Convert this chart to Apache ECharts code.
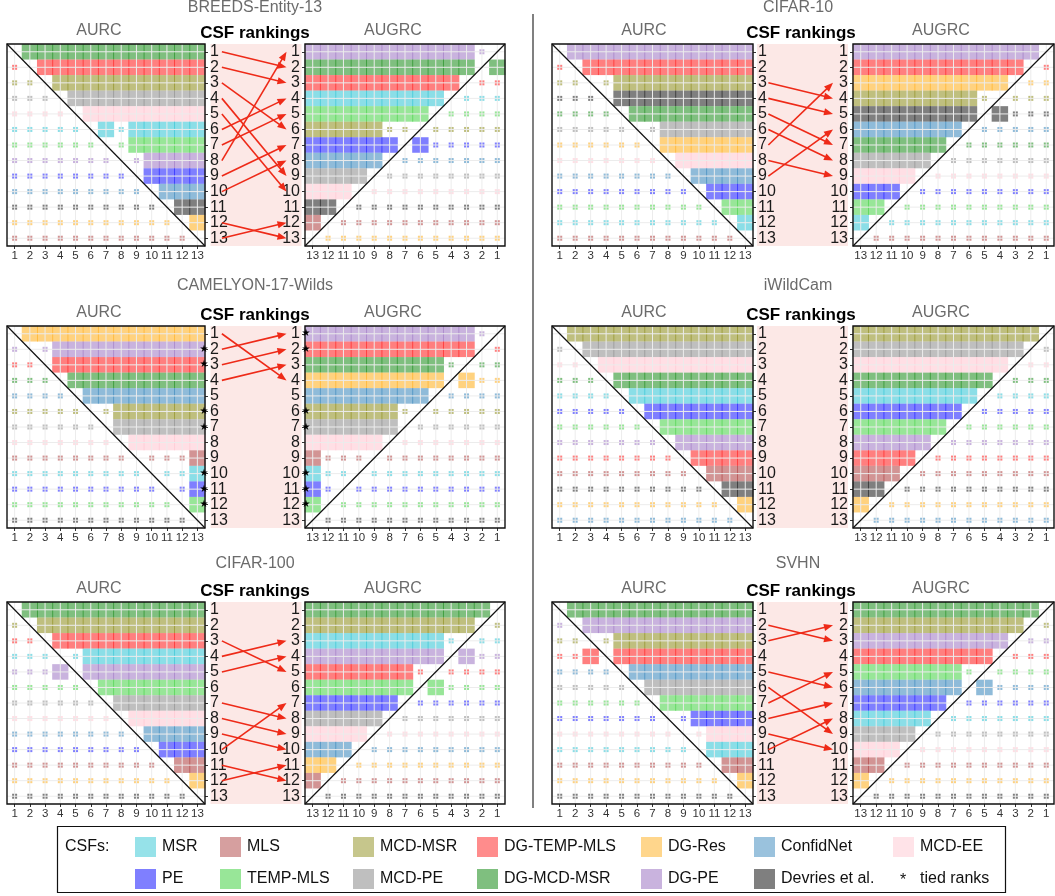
<!DOCTYPE html>
<html><head><meta charset="utf-8">
<script src="https://cdn.jsdelivr.net/npm/echarts/dist/echarts.min.js"></script>
<style>html,body{margin:0;padding:0;background:#fff}#c{width:1055px;height:896px}</style>
</head><body><div id="c"></div>
<script>
// ---------------- DATA ----------------
const rankLabels = ['1','2','3','4','5','6','7','8','9','10','11','12','13'];
const csfNames = ['MSR','MLS','MCD-MSR','DG-TEMP-MLS','DG-Res','ConfidNet','MCD-EE','PE','TEMP-MLS','MCD-PE','DG-MCD-MSR','DG-PE','Devries et al.'];
const csfColors = ['#17becf','#a52a2a','#808000','#ff0000','#ffa500','#1f77b4','#ffc0cb','#0000ff','#32cd32','#808080','#008000','#9467bd','#000000'];
const legendRow1 = ['MSR','MLS','MCD-MSR','DG-TEMP-MLS','DG-Res','ConfidNet','MCD-EE'];
const legendRow2 = ['PE','TEMP-MLS','MCD-PE','DG-MCD-MSR','DG-PE','Devries et al.'];

// '#' = significant (filled tile), '.' = not significant (small marker), '-' = diagonal
const breedsAurc = ['DG-MCD-MSR','DG-TEMP-MLS','MCD-MSR','MCD-PE','MCD-EE','MSR','TEMP-MLS','DG-PE','PE','ConfidNet','Devries et al.','DG-Res','MLS'];
const breedsAugrc = ['DG-PE','DG-MCD-MSR','DG-TEMP-MLS','MSR','TEMP-MLS','MCD-MSR','PE','ConfidNet','MCD-PE','MCD-EE','Devries et al.','MLS','DG-Res'];
const breedsAurcSig = ['-############','.-###########','..-##########','...-#########','....-########','.....-#.#####','......-.#####','.......-.####','........-####','.........-###','..........-##','...........-#','............-'];
const breedsAugrcSig = ['-.###########','#-###########','..-##########','...-#########','....-########','.....-..#####','.....#-######','.......-#####','........-####','.........-###','..........-##','...........-#','............-'];

const camelyonAurc = ['DG-Res','DG-PE','DG-TEMP-MLS','DG-MCD-MSR','ConfidNet','MCD-MSR','MCD-PE','MCD-EE','MLS','MSR','PE','TEMP-MLS','Devries et al.'];
const camelyonAugrc = ['DG-PE','DG-TEMP-MLS','DG-MCD-MSR','DG-Res','ConfidNet','MCD-MSR','MCD-PE','MCD-EE','MLS','MSR','PE','TEMP-MLS','Devries et al.'];
const camelyonAurcSig = ['-############','.-.##########','..-##########','...-#########','....-########','.....-.######','......-######','.......-#####','........-...#','.........-..#','..........-.#','...........-#','............-'];
const camelyonAugrcSig = ['-.###########','.-###########','..-.#########','..#-#########','....-########','.....-.######','......-######','.......-#####','........-...#','.........-..#','..........-.#','...........-#','............-'];
const camelyonTiesAurc = [2,3,6,7,10,11,12];
const camelyonTiesAugrc = [1,2,6,7,10,11,12];

const cifar100Aurc = ['DG-MCD-MSR','MCD-MSR','DG-TEMP-MLS','MSR','DG-PE','TEMP-MLS','MCD-PE','MCD-EE','ConfidNet','PE','MLS','DG-Res','Devries et al.'];
const cifar100Augrc = ['DG-MCD-MSR','MCD-MSR','MSR','DG-PE','DG-TEMP-MLS','TEMP-MLS','PE','MCD-PE','MCD-EE','ConfidNet','DG-Res','MLS','Devries et al.'];
const cifar100AurcSig = ['-############','.-###########','..-##########','...-.########','...#-########','.....-#######','......-######','.......-#####','........-####','.........-###','..........-##','...........-#','............-'];
const cifar100AugrcSig = ['-############','.-###########','..-.#########','..#-#########','....-.#######','....#-#######','......-######','.......-#####','........-####','.........-###','..........-##','...........-#','............-'];

const cifar10Aurc = ['DG-PE','DG-TEMP-MLS','MCD-MSR','Devries et al.','DG-MCD-MSR','MCD-PE','DG-Res','MCD-EE','ConfidNet','PE','TEMP-MLS','MSR','MLS'];
const cifar10Augrc = ['DG-PE','DG-TEMP-MLS','DG-Res','MCD-MSR','Devries et al.','ConfidNet','DG-MCD-MSR','MCD-PE','MCD-EE','PE','TEMP-MLS','MSR','MLS'];
const cifar10AurcSig = ['-############','.-###########','..-.#########','...-#########','....-########','.....-.######','......-######','.......-#####','........-####','.........-###','..........-##','...........-#','............-'];
const cifar10AugrcSig = ['-############','.-###########','..-##########','...-.########','...#-########','.....-#######','......-######','.......-#####','........-####','.........-###','..........-##','...........-#','............-'];

const iwildcamAurc = ['MCD-MSR','MCD-PE','MCD-EE','DG-MCD-MSR','MSR','PE','TEMP-MLS','DG-PE','DG-TEMP-MLS','MLS','Devries et al.','DG-Res','ConfidNet'];
const iwildcamAugrc = ['MCD-MSR','MCD-PE','MCD-EE','DG-MCD-MSR','MSR','PE','TEMP-MLS','DG-PE','DG-TEMP-MLS','MLS','Devries et al.','DG-Res','ConfidNet'];
const iwildcamAurcSig = ['-############','.-###########','..-##########','...-#########','....-########','.....-#######','......-######','.......-#####','........-####','.........-###','..........-##','...........-#','............-'];
const iwildcamAugrcSig = ['-############','.-###########','..-##########','...-#########','....-########','.....-#######','......-######','.......-#####','........-####','.........-###','..........-##','...........-#','............-'];

const svhnAurc = ['DG-MCD-MSR','DG-PE','MCD-MSR','DG-TEMP-MLS','ConfidNet','MCD-PE','TEMP-MLS','PE','MCD-EE','MSR','MLS','DG-Res','Devries et al.'];
const svhnAugrc = ['DG-MCD-MSR','MCD-MSR','DG-PE','DG-TEMP-MLS','TEMP-MLS','ConfidNet','PE','MSR','MCD-PE','MCD-EE','MLS','DG-Res','Devries et al.'];
const svhnAurcSig = ['-############','.-###########','..-.#########','..#-#########','....-########','.....-#######','......-######','.......-.####','........-.###','.........-###','..........-##','...........-#','............-'];
const svhnAugrcSig = ['-############','.-###########','..-##########','...-#########','....-.#######','....#-#######','......-######','.......-#####','........-####','.........-###','..........-##','...........-#','............-'];

// ---------------- LAYOUT / STYLE ----------------
const FONT = '"Liberation Sans", Arial, Helvetica, sans-serif';
const rowTop = [44, 326, 602], boxH = 202;
const rowTitleY = [8, 286, 564];
const colLayout = [
  {aurcL:7, aurcW:198, pinkL:210.5, pinkW:91, augrcL:305, augrcW:200, titleX:255, aurcX:99, csfX:255, augrcX:393},
  {aurcL:552, aurcW:201, pinkL:757, pinkW:91, augrcL:853, augrcW:201, titleX:798, aurcX:644, csfX:801, augrcX:941}
];
const arrowColor = '#ee2a18';
const pinkColor = '#fce8e6';

function rgba(hex, a){
  const n = parseInt(hex.slice(1),16);
  return 'rgba('+((n>>16)&255)+','+((n>>8)&255)+','+(n&255)+','+a+')';
}

const panels = [
  {title:'BREEDS-Entity-13', col:0, row:0, aurc:breedsAurc, augrc:breedsAugrc, aurcSig:breedsAurcSig, augrcSig:breedsAugrcSig, tiesL:[], tiesR:[]},
  {title:'CAMELYON-17-Wilds', col:0, row:1, aurc:camelyonAurc, augrc:camelyonAugrc, aurcSig:camelyonAurcSig, augrcSig:camelyonAugrcSig, tiesL:camelyonTiesAurc, tiesR:camelyonTiesAugrc},
  {title:'CIFAR-100', col:0, row:2, aurc:cifar100Aurc, augrc:cifar100Augrc, aurcSig:cifar100AurcSig, augrcSig:cifar100AugrcSig, tiesL:[], tiesR:[]},
  {title:'CIFAR-10', col:1, row:0, aurc:cifar10Aurc, augrc:cifar10Augrc, aurcSig:cifar10AurcSig, augrcSig:cifar10AugrcSig, tiesL:[], tiesR:[]},
  {title:'iWildCam', col:1, row:1, aurc:iwildcamAurc, augrc:iwildcamAugrc, aurcSig:iwildcamAurcSig, augrcSig:iwildcamAugrcSig, tiesL:[], tiesR:[]},
  {title:'SVHN', col:1, row:2, aurc:svhnAurc, augrc:svhnAugrc, aurcSig:svhnAurcSig, augrcSig:svhnAugrcSig, tiesL:[], tiesR:[]}
];

// ---------------- RENDERERS ----------------
function tileRender(params, api){
  const p = api.coord([api.value(0), api.value(1)]);
  const s = api.size([1,1]);
  const color = rgba(csfColors[api.value(3)], 0.5);
  if (api.value(2) === 1) {
    return {type:'rect', shape:{x:p[0]-s[0]/2-0.5, y:p[1]-s[1]/2, width:s[0]+1, height:s[1]}, style:{fill:color}};
  }
  return {type:'rect', shape:{x:p[0]-2.5, y:p[1]-2.5, width:5, height:5}, style:{fill:color}};
}
function overlayRender(params, api){
  const cs = params.coordSys;
  const ch = [];
  for (let k=0;k<13;k++){
    const p = api.coord([k,k]);
    ch.push({type:'line', shape:{x1:p[0], y1:cs.y, x2:p[0], y2:cs.y+cs.height}, style:{stroke:'#ececec', lineWidth:1}});
    ch.push({type:'line', shape:{x1:cs.x, y1:p[1], x2:cs.x+cs.width, y2:p[1]}, style:{stroke:'#ececec', lineWidth:1}});
  }
  const p0 = api.coord([0,0]), p1 = api.coord([12,12]);
  const dx = (p1[0]-p0[0])/24, dy = (p1[1]-p0[1])/24;
  ch.push({type:'line', shape:{x1:p0[0]-dx, y1:p0[1]-dy, x2:p1[0]+dx, y2:p1[1]+dy}, style:{stroke:'#111', lineWidth:1.2}});
  ch.push({type:'rect', shape:{x:cs.x, y:cs.y, width:cs.width, height:cs.height}, style:{fill:'none', stroke:'#111', lineWidth:1.4}});
  return {type:'group', children:ch};
}
function starRender(isAugrc){
  return function(params, api){
    const cs = params.coordSys;
    const p = api.coord([0, api.value(1)]);
    const x = isAugrc ? cs.x + 1 : cs.x + cs.width - 1;
    return {type:'text', x:x, y:p[1], style:{text:'★', fill:'#000', font:'10px "DejaVu Sans", sans-serif', textAlign:'center', align:'center', textVerticalAlign:'middle', verticalAlign:'middle'}};
  };
}
function arrowRender(params, api){
  const a = api.coord([api.value(0), api.value(1)]);
  const b = api.coord([api.value(2), api.value(3)]);
  const ang = Math.atan2(b[1]-a[1], b[0]-a[0]);
  const L = 9, W = 3.6;
  const bx = b[0]-L*Math.cos(ang), by = b[1]-L*Math.sin(ang);
  return {type:'group', children:[
    {type:'line', shape:{x1:a[0], y1:a[1], x2:bx+1*Math.cos(ang), y2:by+1*Math.sin(ang)}, style:{stroke:arrowColor, lineWidth:1.6}},
    {type:'polygon', shape:{points:[[b[0],b[1]],[bx - W*Math.sin(ang), by + W*Math.cos(ang)],[bx + W*Math.sin(ang), by - W*Math.cos(ang)]]}, style:{fill:arrowColor}}
  ]};
}

// ---------------- BUILD ----------------
const grid=[], xAxis=[], yAxis=[], series=[], graphic=[];
function txt(x, y, text, font, fill, align){
  graphic.push({type:'text', x:x, y:y, silent:true, style:{text:text, font:font, fill:fill, textAlign:align||'center', align:align||'center', textVerticalAlign:'middle', verticalAlign:'middle'}});
}
function addMatrix(left, width, top, ranking, sig, isAugrc, ties){
  const gi = grid.length;
  grid.push({left:left, top:top, width:width, height:boxH});
  const tick = {show:true, alignWithLabel:true, length:3, lineStyle:{color:'#333', width:1}};
  xAxis.push({type:'category', gridIndex:gi, data:rankLabels, inverse:isAugrc, position:'bottom',
    axisLine:{show:false}, axisTick:tick, splitLine:{show:false},
    axisLabel:{interval:0, fontSize:11.5, color:'#333', margin:4, fontFamily:FONT}});
  yAxis.push({type:'category', gridIndex:gi, data:rankLabels, inverse:true, position:isAugrc?'left':'right',
    axisLine:{show:false}, axisTick:tick, splitLine:{show:false},
    axisLabel:{interval:0, fontSize:16, color:'#1a1a1a', margin:5, fontFamily:FONT}});
  const data = [];
  sig.forEach(function(rowStr, r){
    const ci = csfNames.indexOf(ranking[r]);
    for (let c=0;c<13;c++){
      const chr = rowStr[c];
      if (chr === '-') continue;
      data.push([c, r, chr==='#'?1:0, ci]);
    }
  });
  series.push({type:'custom', xAxisIndex:gi, yAxisIndex:gi, renderItem:tileRender, data:data, encode:{x:0,y:1}, z:2, silent:true, animation:false});
  series.push({type:'custom', xAxisIndex:gi, yAxisIndex:gi, renderItem:overlayRender, data:[[0,0]], encode:{x:0,y:1}, z:3, silent:true, animation:false});
  if (ties.length){
    series.push({type:'custom', xAxisIndex:gi, yAxisIndex:gi, renderItem:starRender(isAugrc), data:ties.map(function(t){return [0,t-1];}), encode:{x:0,y:1}, z:5, silent:true, animation:false});
  }
}
function addPink(left, width, top, aurc, augrc){
  const gi = grid.length;
  grid.push({left:left, top:top, width:width, height:boxH, show:true, backgroundColor:pinkColor, borderWidth:0});
  xAxis.push({type:'value', gridIndex:gi, min:0, max:1, show:false});
  yAxis.push({type:'category', gridIndex:gi, data:rankLabels, inverse:true, show:false});
  const data = [];
  aurc.forEach(function(name, i){
    const k = augrc.indexOf(name);
    if (k !== i) data.push([0.125, i, 0.835, k]);
  });
  if (data.length)
    series.push({type:'custom', xAxisIndex:gi, yAxisIndex:gi, renderItem:arrowRender, data:data, encode:{x:[0,2], y:[1,3]}, z:4, silent:true, animation:false});
}

panels.forEach(function(p){
  const L = colLayout[p.col], top = rowTop[p.row];
  addMatrix(L.aurcL, L.aurcW, top, p.aurc, p.aurcSig, false, p.tiesL);
  addPink(L.pinkL, L.pinkW, top, p.aurc, p.augrc);
  addMatrix(L.augrcL, L.augrcW, top, p.augrc, p.augrcSig, true, p.tiesR);
  txt(L.titleX, rowTitleY[p.row], p.title, '16px '+FONT, '#6b6b6b');
  txt(L.aurcX, top-13, 'AURC', '16px '+FONT, '#6b6b6b');
  txt(L.augrcX, top-13, 'AUGRC', '16px '+FONT, '#6b6b6b');
  txt(L.csfX, top-11, 'CSF rankings', 'bold 17px '+FONT, '#000');
});

// separator
graphic.push({type:'line', silent:true, shape:{x1:533, y1:14, x2:533, y2:808}, style:{stroke:'#808080', lineWidth:2}});

// legend
const legendColX = [135, 220, 353, 477, 641, 754, 893];
graphic.push({type:'rect', silent:true, shape:{x:57.5, y:826.5, width:948, height:66}, style:{fill:'none', stroke:'#111', lineWidth:1.2}});
txt(65, 847, 'CSFs:', '16px '+FONT, '#111', 'left');
legendRow1.forEach(function(n, i){
  graphic.push({type:'rect', silent:true, shape:{x:legendColX[i], y:837, width:21, height:20}, style:{fill:rgba(csfColors[csfNames.indexOf(n)],0.45)}});
  txt(legendColX[i]+27, 847, n, '16px '+FONT, '#111', 'left');
});
legendRow2.forEach(function(n, i){
  graphic.push({type:'rect', silent:true, shape:{x:legendColX[i], y:869, width:21, height:20}, style:{fill:rgba(csfColors[csfNames.indexOf(n)],0.5)}});
  txt(legendColX[i]+27, 879, n, '16px '+FONT, '#111', 'left');
});
txt(legendColX[6]+10, 881, '*', '16px '+FONT, '#111');
txt(legendColX[6]+27, 879, 'tied ranks', '16px '+FONT, '#111', 'left');

const chart = echarts.init(document.getElementById('c'), null, {renderer:'canvas'});
chart.setOption({animation:false, grid:grid, xAxis:xAxis, yAxis:yAxis, series:series, graphic:graphic});
</script>
</body></html>
